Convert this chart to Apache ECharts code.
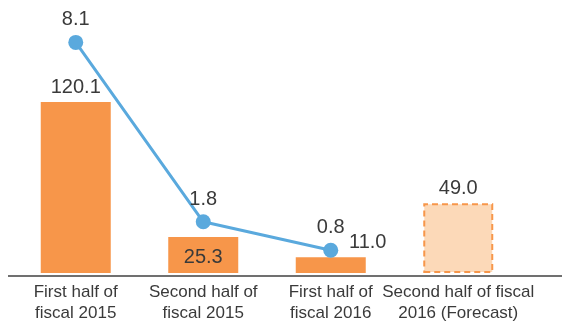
<!DOCTYPE html>
<html>
<head>
<meta charset="utf-8">
<script src="https://cdn.jsdelivr.net/npm/echarts@6/dist/echarts.min.js"></script>
<style>
  html, body { margin: 0; padding: 0; background: #fff; }
</style>
</head>
<body>
<div id="main" style="width: 562px;height: 324px;"></div>
<script>
  // 数据
  const categories = ['First half of\nfiscal 2015', 'Second half of\nfiscal 2015', 'First half of\nfiscal 2016', 'Second half of fiscal\n2016 (Forecast)']
  const barValues = [120.1, 25.3, 11.0, 49.0]
  const lineValues = [8.1, 1.8, 0.8, null]
  const forecastIndex = 3

  const orange = '#f7964a'
  const blue = '#5aa9dd'
  const textColor = '#3a3a3a'
  const font = 'Liberation Sans'

  let myChart = echarts.init(document.getElementById('main'))

  // 柱子的样式和标签
  let barData = barValues.map((v, i) => {
    let item = { value: v }
    if (i === forecastIndex) {
      item.itemStyle = { color: '#fcd9b8', borderColor: orange, borderWidth: 2, borderType: [6, 4] }
    }
    if (i === 1) {
      item.label = { position: 'inside', offset: [0, 2] }
    }
    if (i === 2) {
      item.label = { position: 'top', offset: [37, 0] }
    }
    return item
  })

  myChart.setOption({
    animation: false,
    grid: { left: 12, width: 510, top: 16.8, bottom: 48 },
    xAxis: {
      type: 'category',
      data: categories,
      axisLine: { show: false },
      axisTick: { show: false },
      axisLabel: {
        interval: 0,
        margin: 9,
        fontFamily: font,
        fontSize: 17,
        lineHeight: 21,
        color: textColor
      }
    },
    yAxis: [
      { type: 'value', min: 0, max: 180, show: false, splitLine: { show: false } },
      { type: 'value', min: 0, max: 9, show: false, splitLine: { show: false } }
    ],
    graphic: [{
      type: 'line',
      shape: { x1: 8, y1: 276, x2: 562, y2: 276 },
      style: { stroke: '#707070', lineWidth: 2 },
      z: 1
    }],
    series: [{
      type: 'bar',
      yAxisIndex: 0,
      barWidth: 70,
      data: barData,
      itemStyle: { color: orange },
      label: {
        show: true,
        position: 'top',
        distance: 5,
        fontFamily: font,
        fontSize: 20,
        color: textColor,
        formatter: p => p.value.toFixed(1)
      },
      z: 2
    }, {
      type: 'line',
      yAxisIndex: 1,
      data: lineValues,
      symbol: 'circle',
      symbolSize: 15,
      itemStyle: { color: blue },
      lineStyle: { color: blue, width: 3 },
      label: {
        show: true,
        position: 'top',
        distance: 5,
        fontFamily: font,
        fontSize: 20,
        color: textColor,
        formatter: p => p.value.toFixed(1)
      },
      z: 3
    }]
  })
</script>
</body>
</html>
